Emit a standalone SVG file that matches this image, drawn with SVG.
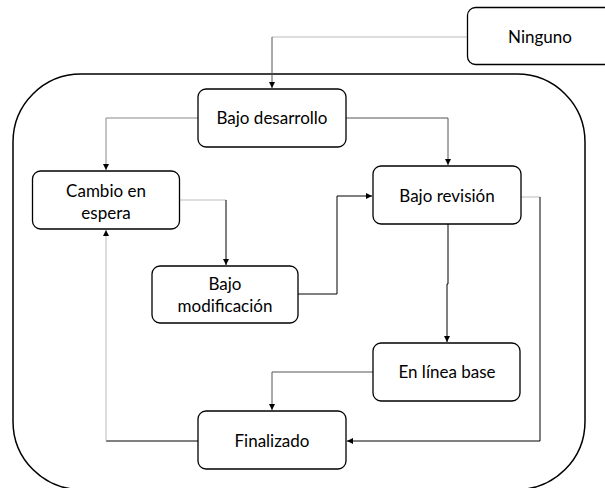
<svg xmlns="http://www.w3.org/2000/svg" width="605" height="488" viewBox="0 0 605 488">
  <defs>
    <marker id="arr" markerUnits="userSpaceOnUse" markerWidth="7" markerHeight="7" refX="6" refY="3.5" orient="auto">
      <path d="M0,0.5 L6,3.5 L0,6.5 z" fill="#000"/>
    </marker>
    <style>
      .box { fill: #fff; stroke: #000; stroke-width: 1.3; }
      .outer { fill: none; stroke: #000; stroke-width: 1.5; }
      .lbl { font-family: Lato, "Liberation Sans", sans-serif; font-size: 17px; fill: #000; text-anchor: middle; }
      .c { fill: none; stroke-width: 1; }
      .k { stroke: #000; }
      .d { stroke: #555; }
      .m { stroke: #888; }
      .l { stroke: #bbb; }
    </style>
  </defs>
  <rect class="outer" x="13" y="74" width="572" height="415.5" rx="68" ry="68"/>
  <g id="connectors">
    <path class="c l" d="M467,37 H272"/>
    <path class="c d" d="M272,37 V88" marker-end="url(#arr)"/>
    <path class="c m" d="M198,118 H106 V170" marker-end="url(#arr)"/>
    <path class="c d" d="M346,118 H448 V165" marker-end="url(#arr)"/>
    <path class="c l" d="M180,200 H226"/>
    <path class="c k" d="M226,200 V265" marker-end="url(#arr)"/>
    <path class="c k" d="M298,294 H337 V196 H372" marker-end="url(#arr)"/>
    <path class="c k" d="M448,224 V284 H447 V342" marker-end="url(#arr)"/>
    <path class="c l" d="M521,197 H540"/>
    <path class="c k" d="M540,197 V441 H347" marker-end="url(#arr)"/>
    <path class="c d" d="M373,372 H272 V410" marker-end="url(#arr)"/>
    <path class="c k" d="M198,441 H106"/>
    <path class="c l" d="M106,441 V230" marker-end="url(#arr)"/>
  </g>
  <g id="ninguno">
    <rect class="box" x="467.5" y="7.5" width="147" height="57" rx="8"/>
    <text class="lbl" x="540" y="43">Ninguno</text>
  </g>
  <g id="bajo-desarrollo">
    <rect class="box" x="198" y="89" width="148" height="58" rx="8"/>
    <text class="lbl" x="272" y="124">Bajo desarrollo</text>
  </g>
  <g id="cambio-en-espera">
    <rect class="box" x="32.5" y="171" width="147" height="58" rx="8"/>
    <text class="lbl" x="106" y="196.5">Cambio en</text>
    <text class="lbl" x="106" y="218.5">espera</text>
  </g>
  <g id="bajo-revision">
    <rect class="box" x="373" y="166" width="148" height="58" rx="8"/>
    <text class="lbl" x="447" y="202">Bajo revisión</text>
  </g>
  <g id="bajo-modificacion">
    <rect class="box" x="152" y="266" width="146" height="57" rx="8"/>
    <text class="lbl" x="225" y="290">Bajo</text>
    <text class="lbl" x="225" y="312">modificación</text>
  </g>
  <g id="en-linea-base">
    <rect class="box" x="373" y="343" width="147" height="58" rx="8"/>
    <text class="lbl" x="447" y="378">En línea base</text>
  </g>
  <g id="finalizado">
    <rect class="box" x="198" y="411" width="148" height="58" rx="8"/>
    <text class="lbl" x="272" y="447">Finalizado</text>
  </g>
</svg>
